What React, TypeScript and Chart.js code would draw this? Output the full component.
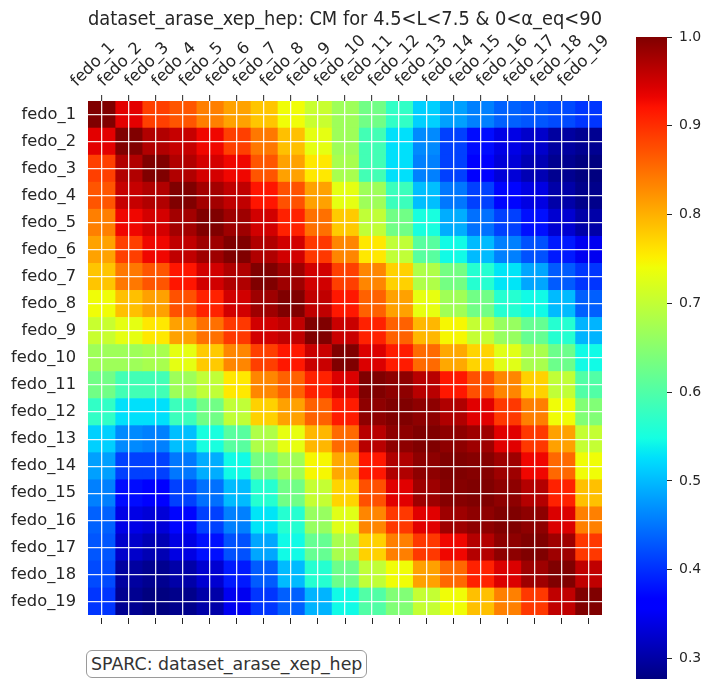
import React, { useEffect, useRef } from "react";
import { Chart, registerables } from "chart.js";

Chart.register(...registerables);

const fedoLabels = [
  "fedo_1", "fedo_2", "fedo_3", "fedo_4", "fedo_5", "fedo_6", "fedo_7", "fedo_8", "fedo_9", "fedo_10",
  "fedo_11", "fedo_12", "fedo_13", "fedo_14", "fedo_15", "fedo_16", "fedo_17", "fedo_18", "fedo_19",
];

const row01 = [1.000, 0.938, 0.887, 0.870, 0.838, 0.811, 0.784, 0.741, 0.706, 0.669, 0.629, 0.573, 0.515, 0.481, 0.458, 0.436, 0.428, 0.420, 0.405];
const row02 = [0.938, 1.000, 0.969, 0.956, 0.930, 0.887, 0.843, 0.788, 0.731, 0.669, 0.588, 0.526, 0.465, 0.413, 0.375, 0.341, 0.324, 0.297, 0.288];
const row03 = [0.887, 0.969, 1.000, 0.969, 0.947, 0.930, 0.870, 0.812, 0.757, 0.678, 0.588, 0.526, 0.458, 0.413, 0.367, 0.332, 0.310, 0.287, 0.277];
const row04 = [0.870, 0.956, 0.969, 1.000, 0.978, 0.960, 0.919, 0.873, 0.812, 0.731, 0.669, 0.582, 0.503, 0.452, 0.413, 0.370, 0.339, 0.302, 0.284];
const row05 = [0.838, 0.930, 0.947, 0.978, 1.000, 0.981, 0.949, 0.910, 0.849, 0.780, 0.699, 0.629, 0.551, 0.490, 0.447, 0.413, 0.378, 0.328, 0.302];
const row06 = [0.811, 0.887, 0.930, 0.960, 0.981, 1.000, 0.970, 0.949, 0.892, 0.832, 0.757, 0.699, 0.607, 0.545, 0.500, 0.458, 0.425, 0.385, 0.348];
const row07 = [0.784, 0.843, 0.870, 0.919, 0.949, 0.970, 1.000, 0.981, 0.949, 0.887, 0.832, 0.775, 0.684, 0.632, 0.563, 0.530, 0.485, 0.432, 0.405];
const row08 = [0.741, 0.788, 0.812, 0.873, 0.910, 0.949, 0.981, 1.000, 0.960, 0.917, 0.861, 0.812, 0.733, 0.671, 0.629, 0.563, 0.545, 0.500, 0.435];
const row09 = [0.706, 0.731, 0.757, 0.812, 0.849, 0.892, 0.949, 0.960, 1.000, 0.954, 0.910, 0.861, 0.795, 0.746, 0.702, 0.663, 0.619, 0.563, 0.495];
const row10 = [0.669, 0.669, 0.678, 0.731, 0.780, 0.832, 0.887, 0.917, 0.954, 1.000, 0.943, 0.914, 0.854, 0.806, 0.773, 0.727, 0.679, 0.625, 0.545];
const row11 = [0.629, 0.588, 0.588, 0.669, 0.699, 0.757, 0.832, 0.861, 0.910, 0.943, 1.000, 0.991, 0.965, 0.917, 0.874, 0.832, 0.775, 0.699, 0.601];
const row12 = [0.573, 0.526, 0.526, 0.582, 0.629, 0.699, 0.775, 0.812, 0.861, 0.914, 0.991, 1.000, 0.991, 0.970, 0.939, 0.892, 0.838, 0.741, 0.643];
const row13 = [0.515, 0.465, 0.458, 0.503, 0.551, 0.607, 0.684, 0.733, 0.795, 0.854, 0.965, 0.991, 1.000, 0.991, 0.981, 0.939, 0.892, 0.812, 0.702];
const row14 = [0.481, 0.413, 0.413, 0.452, 0.490, 0.545, 0.632, 0.671, 0.746, 0.806, 0.917, 0.970, 0.991, 1.000, 0.996, 0.981, 0.930, 0.855, 0.741];
const row15 = [0.458, 0.375, 0.367, 0.413, 0.447, 0.500, 0.563, 0.629, 0.702, 0.773, 0.874, 0.939, 0.981, 0.996, 1.000, 0.991, 0.967, 0.910, 0.788];
const row16 = [0.436, 0.341, 0.332, 0.370, 0.413, 0.458, 0.530, 0.563, 0.663, 0.727, 0.832, 0.892, 0.939, 0.981, 0.991, 1.000, 0.991, 0.943, 0.837];
const row17 = [0.428, 0.324, 0.310, 0.339, 0.378, 0.425, 0.485, 0.545, 0.619, 0.679, 0.775, 0.838, 0.892, 0.930, 0.967, 0.991, 1.000, 0.981, 0.892];
const row18 = [0.420, 0.297, 0.287, 0.302, 0.328, 0.385, 0.432, 0.500, 0.563, 0.625, 0.699, 0.741, 0.812, 0.855, 0.910, 0.943, 0.981, 1.000, 0.960];
const row19 = [0.405, 0.288, 0.277, 0.284, 0.302, 0.348, 0.405, 0.435, 0.495, 0.545, 0.601, 0.643, 0.702, 0.741, 0.788, 0.837, 0.892, 0.960, 1.000];

const corrMatrix = [
  row01, row02, row03, row04, row05, row06, row07, row08, row09, row10,
  row11, row12, row13, row14, row15, row16, row17, row18, row19,
];

const colorbarTicks = [0.3, 0.4, 0.5, 0.6, 0.7, 0.8, 0.9, 1.0];
const chartTitle = "dataset_arase_xep_hep: CM for 4.5<L<7.5 & 0<α_eq<90";
const sourceNote = "SPARC: dataset_arase_xep_hep";

const vmax = 1.0;
const vmin = Math.min(...corrMatrix.map((r) => Math.min(...r)));

// matplotlib "jet" segment data
const JET_R = [[0, 0], [0.35, 0], [0.66, 1], [0.89, 1], [1, 0.5]];
const JET_G = [[0, 0], [0.125, 0], [0.375, 1], [0.64, 1], [0.91, 0], [1, 0]];
const JET_B = [[0, 0.5], [0.11, 1], [0.34, 1], [0.65, 0], [1, 0]];

function seg(pts: number[][], t: number): number {
  for (let i = 1; i < pts.length; i++) {
    if (t <= pts[i][0]) {
      const [x0, y0] = pts[i - 1];
      const [x1, y1] = pts[i];
      return y0 + ((t - x0) / (x1 - x0)) * (y1 - y0);
    }
  }
  return pts[pts.length - 1][1];
}

function jetT(t: number): string {
  const c = Math.max(0, Math.min(1, t));
  const r = Math.round(seg(JET_R, c) * 255);
  const g = Math.round(seg(JET_G, c) * 255);
  const b = Math.round(seg(JET_B, c) * 255);
  return `rgb(${r},${g},${b})`;
}

function jetColor(v: number): string {
  return jetT((v - vmin) / (vmax - vmin));
}

const FONT = "'DejaVu Sans', sans-serif";
const TEXT = "#262626";

export default function App() {
  const heatRef = useRef<HTMLCanvasElement>(null);
  const barRef = useRef<HTMLCanvasElement>(null);

  useEffect(() => {
    const centerTicks = (scale: any) => {
      scale.ticks = fedoLabels.map((_, i) => ({ value: i + 0.5 }));
    };

    const heat = new Chart(heatRef.current as HTMLCanvasElement, {
      type: "bar",
      data: {
        labels: fedoLabels,
        datasets: fedoLabels.map((col, j) => ({
          label: col,
          data: fedoLabels.map(() => 1),
          backgroundColor: corrMatrix.map((row) => jetColor(row[j])),
          borderWidth: 0,
          barPercentage: 1,
          categoryPercentage: 1,
          stack: "cells",
        })),
      },
      options: {
        indexAxis: "y",
        responsive: false,
        animation: false,
        events: [],
        layout: { padding: { left: 8, right: 18, top: 0, bottom: 54 } },
        plugins: {
          legend: { display: false },
          tooltip: { enabled: false },
          title: {
            display: true,
            text: chartTitle,
            fullSize: false,
            color: TEXT,
            font: { family: FONT, size: 18.7, weight: "normal" },
            padding: { top: 9, bottom: 0 },
          },
        },
        scales: {
          x: {
            type: "linear",
            position: "top",
            stacked: true,
            min: 0,
            max: 19,
            z: 1,
            afterBuildTicks: centerTicks,
            afterFit: (s: any) => {
              s.height = 69.56;
              s.paddingLeft = 0;
              s.paddingRight = 0;
            },
            border: { display: false },
            grid: {
              z: 1,
              color: "rgba(255,255,255,0.9)",
              lineWidth: 1.3,
              drawOnChartArea: true,
              drawTicks: true,
              tickLength: 8,
              tickColor: TEXT,
              tickWidth: 1,
              tickBorderDash: [0, 2, 6, 20],
            },
            ticks: {
              autoSkip: false,
              minRotation: 45,
              maxRotation: 45,
              labelOffset: -14,
              padding: 2,
              color: TEXT,
              font: { family: FONT, size: 16.3 },
              callback: (v: any) => fedoLabels[Math.round(Number(v) - 0.5)],
            },
          },
          x2: {
            axis: "x",
            type: "linear",
            position: "bottom",
            min: 0,
            max: 19,
            afterBuildTicks: centerTicks,
            afterFit: (s: any) => {
              s.height = 10;
              s.paddingLeft = 0;
              s.paddingRight = 0;
            },
            border: { display: false },
            grid: {
              drawOnChartArea: false,
              drawTicks: true,
              tickLength: 9,
              tickColor: TEXT,
              tickWidth: 1,
              tickBorderDash: [0, 3, 6, 20],
            },
            ticks: { display: false },
          },
          y: {
            type: "category",
            stacked: true,
            z: 1,
            afterFit: (s: any) => {
              s.width = 80;
              s.paddingTop = 0;
              s.paddingBottom = 0;
            },
            border: { display: false },
            grid: {
              z: 1,
              color: "rgba(255,255,255,0.9)",
              lineWidth: 1.3,
              offset: false,
              drawTicks: false,
            },
            ticks: {
              autoSkip: false,
              padding: 12,
              color: TEXT,
              font: { family: FONT, size: 16.3 },
            },
          },
        },
      } as any,
    });

    const cbar = new Chart(barRef.current as HTMLCanvasElement, {
      type: "bar",
      data: {
        labels: ["colorbar"],
        datasets: [
          {
            data: [[vmin, vmax]] as any,
            backgroundColor: (ctx: any) => {
              const chart = ctx.chart;
              const ys = chart.scales && chart.scales.y;
              if (!ys || !chart.chartArea) return "transparent";
              const g = chart.ctx.createLinearGradient(
                0, ys.getPixelForValue(vmin), 0, ys.getPixelForValue(vmax)
              );
              const n = 64;
              for (let k = 0; k <= n; k++) g.addColorStop(k / n, jetT(k / n));
              return g;
            },
            borderWidth: 0,
            barPercentage: 1,
            categoryPercentage: 1,
          },
        ],
      },
      options: {
        responsive: false,
        animation: false,
        events: [],
        layout: { padding: { left: 16, right: 0, top: 37, bottom: 0 } },
        plugins: { legend: { display: false }, tooltip: { enabled: false } },
        scales: {
          x: { display: false },
          y: {
            position: "right",
            min: vmin,
            max: vmax,
            afterBuildTicks: (s: any) => {
              s.ticks = colorbarTicks.map((v) => ({ value: v }));
            },
            afterFit: (s: any) => {
              s.width = 35;
              s.paddingTop = 0;
              s.paddingBottom = 0;
            },
            border: { display: false },
            grid: {
              drawOnChartArea: false,
              drawTicks: true,
              tickLength: 5,
              tickColor: TEXT,
              tickWidth: 1,
            },
            ticks: {
              padding: 7,
              color: TEXT,
              font: { family: FONT, size: 14 },
              callback: (v: any) => Number(v).toFixed(1),
            },
          },
        },
      } as any,
    });

    return () => {
      heat.destroy();
      cbar.destroy();
    };
  }, []);

  return (
    <div
      style={{
        position: "absolute",
        left: 0,
        top: 0,
        width: 702,
        height: 679,
        background: "#ffffff",
        overflow: "hidden",
      }}
    >
      <canvas ref={heatRef} width={620} height={679} style={{ position: "absolute", left: 0, top: 0 }} />
      <canvas ref={barRef} width={82} height={679} style={{ position: "absolute", left: 620, top: 0 }} />
      <div
        style={{
          position: "absolute",
          left: 86,
          top: 650,
          height: 28,
          boxSizing: "border-box",
          border: "1px solid #9a9a9a",
          borderRadius: 6,
          padding: "0 4px",
          lineHeight: "26px",
          fontFamily: FONT,
          fontSize: 17.4,
          color: "#333333",
          background: "#ffffff",
          whiteSpace: "nowrap",
        }}
      >
        {sourceNote}
      </div>
    </div>
  );
}
